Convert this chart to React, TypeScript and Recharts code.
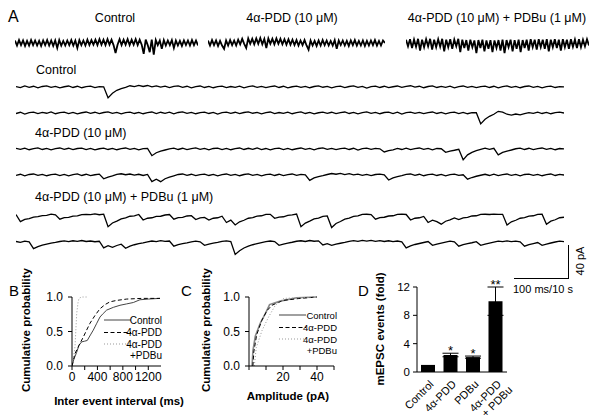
import React from 'react';
import { LineChart, Line, BarChart, Bar, XAxis, YAxis, ErrorBar, LabelList } from 'recharts';

const FONT = 'Arial, "Liberation Sans", Helvetica, sans-serif';

// --- A: overview traces (compressed, pA) ---
const ctrlTop = [
  3, -3, 3.5, -2.5, 3, -3.5, 2.5, -3, 3.5, -2.5,
  3, -3, 2.5, -3.5, 3, -2.5, 3.5, -3, 3, -3.5,
  3, -6, 3.5, -3, 2.5, -3, 3, -2.5, 3.5, -3,
  3, -6, 3.5, -2.5, 3, -3, 4, -2.5, 3.5, -2,
  4, -2.5, 4.5, -2, 4, -2.5, 4.5, -2, 4, -2.5,
  -12, -2, 4.5, -2.5, 4, -2, 4.5, -2.5, 4, -2,
  4.5, -2.5, 4, -2, -13, 4, -2.5, -11, 4, -14,
  3.5, -2.5, 3, -7, 3.5, -3, 3, -2.5, 3.5, -6,
  3, -3, 2.5, -3.5, 3, -2.5, 3, -3, 3.5, -2.5,
  3, -3,
];
const pddTop = [
  3, -3, 3.5, -2.5, 3, -3.5, 2.5, -3, -7, 3,
  -3, 3.5, -2.5, 3, -3, 4, -1.5, 5, -1, -6,
  5.5, -1, 5, -1.5, 5.5, -1, 6, -1.5, 5, -6,
  5.5, -1, 5, -1.5, 5.5, -1, 5, -1.5, 4.5, -2,
  4.5, -2, 4, -2.5, 3.5, -3, 3, -2.5, 3.5, -3,
  -8, 3, -3, 2.5, -3.5, 3, -3, 3.5, -2.5, 3,
  -3, 2.5, -3, 3.5, -7, 3, -2.5, 3, -3, 2.5,
  -3.5, 3, -2.5, 3.5, -3, 2.5, -3, 3, -3.5, 2.5,
  -3, 3, -2.5, 3.5, -3, 2.5, -3, 3, 0,
];
const comboTop = [
  4, -4, 4.5, -6, 4, -4.5, 5, -9, 4, -5,
  4.5, -4, 5, -8, 4, -5, 4.5, -4.5, 5, -10,
  4, -5, 4.5, -7, 4, -4, 5, -11, 4, -6,
  3.5, -9, 4, -5, 3, -12, 3.5, -6, 4, -10,
  3, -7, 3.5, -11, 3, -6, 3.5, -9, 4, -12,
  3.5, -5, 4, -10, 3.5, -7, 4, -11, 3.5, -6,
  4, -9, 4.5, -5, 4, -8, 4.5, -5, 4, -7,
  4.5, -10, 4, -5, 4.5, -6, 4, -9, 4.5, -5,
  4, -7, 4.5, -4.5, 4, -6, 4.5, -5, 4, -4,
  4.5, -3,
];

// --- A: expanded traces, 8 ms per sample, pA ---
const ctrlRow1 = [
  0.5, -0.8, 1.2, -0.4, 0.9, -1.1, 0.6, 1.4, -0.5, 0.8,
  -1, 0.3, 1.2, -0.6, 0.9, -0.9, 0.4, 1.1, -0.7, 0.5,
  0.2, -13, -7.5, -4, -2, -0.5, 1.5, 0.4, 2, 0.6,
  1.8, 0.2, 1.4, -0.2, 1, -0.8, 0.7, 1.3, -0.5, 0.9,
  -1, 0.5, 1.2, -0.6, 0.8, -0.9, 0.4, 1.1, -0.7, 0.6,
  -0.4, 1, -1.1, 0.4, 1.3, -0.5, 0.7, -0.8, 0.5, 1.2,
  -0.6, 0.9, -1, 0.3, 1.1, -0.5, 0.8, -0.9, 0.6, 1.4,
  -0.3, 0.7, -1, 0.5, 1, -0.7, 0.6, 1.3, -0.4, 0.8,
  -1.2, 0.4, 1.1, -0.6, 0.9, -0.8, 0.3, 1.2, -0.5, 0.7,
  1.5, -0.2, 0.9, -0.9, 0.6, 1.3, -0.6, 0.8, -0.4, 1,
  -1, 0.5, 1.2, -0.5, 0.8, -0.8, 0.5, 1.1, -0.6, 0.9,
  -1.1, 0.4, 1.3, -0.5, 0.7, -0.9, 0.6, 1.2, -0.4, 0.8,
  -1, 0.5, 1.1, -0.6, 0.5, 0.2,
];
const ctrlRow2 = [
  -0.6, 0.9, -1.2, 0.4, 1, -0.8, 0.7, -0.3, 1.3, -0.9,
  0.5, 1.1, -0.7, 0.8, -1, 0.3, 1.2, -0.5, 0.9, -0.8,
  0.6, 1.4, -0.4, 0.7, -1.1, 0.5, 1, -0.6, 0.8, -0.9,
  0.4, 1.2, -0.7, 0.9, -0.5, 1.1, -1, 0.6, 1.3, -0.4,
  0.8, -0.9, 0.5, 1.1, -0.6, 0.7, -1.2, 0.4, 1, -0.5,
  0.9, -0.8, 0.6, 1.3, -0.3, 0.8, -1, 0.5, 1.2, -0.7,
  0.6, -0.4, 1, -0.9, 0.5, 1.4, -0.6, 0.7, -1.1, 0.3,
  1.1, -0.5, 0.9, -0.8, 0.4, 1.2, -0.6, 0.8, -1, 0.5,
  1.3, -0.4, 0.7, -0.9, 0.6, 1, -0.7, 0.9, -1.2, 0.4,
  1.1, -0.5, 0.8, -0.8, 0.5, 1.2, -0.6, 0.7, -1, 0.4,
  1, -0.7, 0.8, -0.9, 0.5, 0.3, -13, -7.5, -4, -1.5,
  2, 1, -1.5, -2.5, -1.2, -2.2, -0.8, 0.5, -0.4, 1,
  -0.6, 0.8, -0.9, 0.5, 1.1, 0,
];
const pddRow1 = [
  0.8, -0.5, 1.1, -0.9, 0.4, 1.3, -0.6, 0.7, -1, 0.5,
  1.2, -0.4, 0.9, -0.8, 0.6, 1, -0.7, 0.8, -1.1, 0.3,
  1.1, -0.6, 0.7, -0.9, 0.5, 1.2, -0.5, 0.8, -1, 0.4,
  0.6, -8, -4.5, -2.5, -1.2, 0.2, 1, -0.6, 0.9, -0.8,
  0.5, 1.3, -0.4, 0.7, -1, 0.6, 1.1, -0.7, 0.8, -0.9,
  0.4, 1.2, -0.6, 0.9, -0.5, 1.4, -0.8, 0.6, -1.1, 0.5,
  1, -0.7, 0.8, -0.9, 0.3, 1.2, -0.5, 0.7, -1, 0.6,
  1.3, -0.4, 0.8, -0.8, 0.5, 1.1, -0.6, 0.9, -1.2, 0.4,
  1, -0.5, 0.7, 0.2, -3.5, -2, -1, 0.8, -0.6, 1.1,
  -0.8, 0.5, 1.2, -0.5, 0.7, -1, 0.6, 0.3, -4, -2.5,
  -1.5, -0.3, -13, -7, -4, -2, -0.5, 1, -0.4, 0.8,
  -7, -4, -2.5, -1.2, 0.3, 1, -0.6, 0.9, -0.8, 0.5,
  1.2, -0.5, 0.8, -0.9, 0.6, 0.2,
];
const pddRow2 = [
  -0.4, 0.9, -1, 0.6, 1.2, -0.5, 0.8, -0.9, 0.4, 1.1,
  -0.7, 0.7, -1.1, 0.5, 1.3, -0.6, 0.9, -0.8, 0.3, 1,
  -4.5, -2.5, -1, 0.8, 1.5, 0.3, 1.2, -0.2, 0.9, -0.6,
  0.7, -8, -5, -8, -4.5, -2.5, -1, 0.6, 1.2, -0.5,
  0.9, -0.8, 0.5, 1.1, -0.6, 0.7, -1, 0.4, 1.2, -0.5,
  0.8, -0.9, 0.6, 1.3, -0.4, 0.7, -1.1, 0.5, 1, -0.6,
  0.9, -0.8, 0.4, 1.2, -0.5, 0.8, 0.3, -6.5, -3.5, -2,
  -0.8, 0.6, 1.8, 0.9, 2, 0.5, 1.6, 0.2, 1.1, -0.5,
  0.8, -0.7, 0.6, 1.1, 0.2, -6, -3.5, -2, -0.8, 0.7,
  1.2, -0.5, 0.9, -0.9, 0.5, 1.1, -0.6, 0.8, -1, 0.4,
  1.1, -0.5, 0.3, -5, -3, -1.5, -0.3, 0.9, -0.6, 1,
  -0.8, 0.5, 1.2, -0.5, 0.7, -1, 0.6, 1.1, -0.4, 0.8,
  -0.9, 0.5, 1.2, -0.6, 0.7, 0,
];
const comboRow1 = [
  0.5, -8, -5.2, -4.3, -2.5, -2, -0.7, -0.4, 1, 0.2,
  -5, -3.2, -2.8, -1.3, -1, 0.5, 0.8, 0.5, 1.3, 0.3,
  1, -14, -9.6, -7.4, -4.7, -3.5, -1.5, -1, 0.6, -6,
  -3.9, -3.3, -1.7, -1.5, 0, 0.6, -5, -3.2, -2.8, -1.2,
  -0.8, -5.5, -3.5, -2.9, -6, -3.9, -3.3, -1.5, -9, -6.2,
  -12, -8.2, -6.3, -3.9, -3.1, -1.3, -0.9, 0.7, 0.8, -4,
  -2.5, -2.1, -0.5, 0.1, 1.1, -14, -9.7, -7.3, -4.7, -3.7,
  -1.7, -1.1, -15, -10.2, -7.8, -4.9, -3.8, -1.7, -1.1, 0.7,
  0.9, 0.5, -5, -3.2, -2.7, -1.2, -0.9, 0.8, 1, 0.6,
  -6, -3.9, -3.3, -1.7, -9, -6.2, -8, -11, -7.5, -5.8,
  -3.5, -5.5, -3.5, -2.8, -1.2, -0.9, 0.8, 0.9, 0.6, 1.1,
  0.8, 0.8, -12, -8.2, -6.3, -3.9, -3.1, -1.3, -0.9, 0.8,
  1, -11, -7.4, -5.7, -3.3, -2.7,
];
const comboRow2 = [
  0.6, -0.5, 1, 0.2, -8, -5.5, -3.8, -2.5, -1.4, -0.5,
  0.6, 1.3, 0.4, 1.5, 0.8, 1.8, 0.6, 1.2, 0.3, 0.9,
  -7, -4.5, -6.5, -4.2, -2.6, -7.5, -5, -3.3, -2, -1,
  0.2, 1.2, 0.5, 1.6, 0.7, 1.2, -5, -3.2, -2, -1,
  0.2, 1, 0.3, -4, -2.5, -1.4, -0.4, 0.8, 1.4, 0.6,
  -15, -10.5, -7.2, -5, -3.3, -2, -0.8, 0.4, 1.2, 0.5,
  -4, -2.5, -1.3, -0.3, 0.9, 1.5, 0.6, 1.8, 0.9, 1.4,
  -3.5, -2, -4, -2.6, -1.5, -0.5, 0.8, 1.6, 0.7, 1.9,
  1, 2, 0.8, 1.7, 0.6, 1.5, 0.5, 1.2, 0.3, -7,
  -4.6, -3, -1.8, -0.6, 0.6, -4, -2.5, -1.3, -0.2, 1,
  0.3, -5, -3.2, -2, -0.9, 0.4, -4, -2.5, -1.3, -0.2,
  1, 0.4, 1.3, 0.5, 1.1, 0.2, -5, -3.2, -1.9, -0.6,
  -4, -2.5, -1.2, 0, 1, 0.4,
];

// --- B: inter-event interval CDFs ---
const bCtrlMs = [0, 30, 74, 110, 152, 200, 240, 290, 335, 390, 440, 490, 545, 650, 755, 860, 964, 1069, 1200, 1384];
const bCtrlP = [0, 0.1, 0.2, 0.3, 0.35, 0.36, 0.37, 0.45, 0.52, 0.62, 0.71, 0.76, 0.81, 0.85, 0.88, 0.9, 0.92, 0.96, 0.97, 0.98];
const bPddMs = [0, 47, 110, 178, 230, 283, 360, 440, 520, 597, 700, 860, 1100, 1384];
const bPddP = [0, 0.18, 0.3, 0.42, 0.52, 0.62, 0.73, 0.83, 0.89, 0.93, 0.95, 0.97, 0.98, 0.98];
const bComboMs = [0, 20, 47, 74, 95, 110, 150, 230];
const bComboP = [0, 0.1, 0.28, 0.76, 0.92, 0.98, 1, 1];

// --- C: amplitude CDFs ---
const cCtrlPa = [1.8, 2.3, 3.7, 6.6, 9.6, 12.1, 18.4, 28, 40];
const cCtrlP = [0, 0.22, 0.43, 0.62, 0.76, 0.89, 0.94, 0.99, 1];
const cPddPa = [2.3, 2.8, 4.5, 7.5, 10.5, 13.5, 20, 30, 40];
const cPddP = [0, 0.2, 0.45, 0.66, 0.8, 0.88, 0.95, 0.98, 1];
const cComboPa = [3.1, 4.3, 7.6, 11.5, 15.5, 20.4, 30, 40];
const cComboP = [0, 0.27, 0.51, 0.71, 0.88, 0.98, 0.99, 1];

// --- D: mEPSC events (fold) ---
const dCats = ['Control', '4α-PDD', 'PDBu', '4α-PDD+PDBu'];
const dMeans = [1, 2.4, 2.1, 10];
const dErr = [0, 0.25, 0.15, 2];
const dSig = ['', '*', '*', '**'];

const pairs = (xs: number[], ys: number[]) => xs.map((x, i) => ({ x, p: ys[i] }));

const Txt = ({ x, y, size = 12.5, bold = false, rotate = 0, anchor = 'left', children }: any) => (
  <div
    style={{
      position: 'absolute', left: x, top: y, fontFamily: FONT, fontSize: size,
      fontWeight: bold ? 'bold' : 'normal', whiteSpace: 'nowrap', lineHeight: 1, color: '#000',
      transform: `translate(${anchor === 'center' ? '-50%' : '0'}, -50%) rotate(${rotate}deg)`,
    }}
  >
    {children}
  </div>
);

const Trace = ({ values, left, top, width, sw = 1.3 }: { values: number[]; left: number; top: number; width: number; sw?: number }) => {
  const data = values.map((v, i) => ({ i, v }));
  return (
    <div style={{ position: 'absolute', left, top }}>
      <LineChart width={width} height={40} data={data} margin={{ top: 0, right: 0, bottom: 0, left: 0 }}>
        <XAxis dataKey="i" type="number" domain={[0, values.length - 1]} hide />
        <YAxis domain={[-36, 12]} hide />
        <Line dataKey="v" type="linear" dot={false} stroke="#000" strokeWidth={sw} isAnimationActive={false} />
      </LineChart>
    </div>
  );
};

const CdfLegend = ({ left, top, ctrlStroke, ctrlWidth, size = 9.5 }: any) => {
  const rows = [8, 20.5, 32, 43];
  const txt = { fontFamily: FONT, fontSize: size, textAnchor: 'end' as const };
  return (
    <svg style={{ position: 'absolute', left, top }} width={64} height={50}>
      <line x1={4} x2={31} y1={rows[0]} y2={rows[0]} stroke={ctrlStroke} strokeWidth={ctrlWidth} />
      <text x={62} y={rows[0] + 3.5} {...txt}>Control</text>
      <line x1={4} x2={31} y1={rows[1]} y2={rows[1]} stroke="#000" strokeDasharray="4 2.5" />
      <text x={62} y={rows[1] + 3.5} {...txt}>4α-PDD</text>
      <line x1={4} x2={31} y1={rows[2]} y2={rows[2]} stroke="#999" strokeDasharray="1 2" />
      <text x={62} y={rows[2] + 3.5} {...txt}>4α-PDD</text>
      <text x={62} y={rows[3] + 3.5} {...txt}>+PDBu</text>
    </svg>
  );
};

const axisStyle = { stroke: '#000', strokeWidth: 1 };
const tickStyle = { fontSize: 12, fill: '#000', fontFamily: FONT };

const DTick = ({ x, y, payload }: any) => {
  const lines = payload.value === '4α-PDD+PDBu' ? ['4α-PDD', '+ PDBu'] : [payload.value];
  return (
    <g transform={`translate(${x + 6},${y + 5})`}>
      <text transform="rotate(-45)" textAnchor="end" fontSize={11} fontFamily={FONT} fill="#000">
        {lines.map((l, i) => (
          <tspan key={i} x={i * 4} dy={i === 0 ? 0 : 12}>{l}</tspan>
        ))}
      </text>
    </g>
  );
};

const StarLabel = (props: any) => {
  const { x, y, width, height, value, index } = props;
  if (!value) return null;
  const k = Number(height) / dMeans[index];
  const top = Number(y) - dErr[index] * k;
  return (
    <text x={Number(x) + Number(width) / 2} y={top + 2} textAnchor="middle" fontSize={13} fontFamily={FONT} fill="#000">
      {value}
    </text>
  );
};

export default function App() {
  const dData = dCats.map((cat, i) => ({ cat, mean: dMeans[i], err: dErr[i], sig: dSig[i] }));
  return (
    <div style={{ position: 'absolute', left: 0, top: 0, width: 600, height: 418, background: '#fff', overflow: 'hidden' }}>
      {/* Panel A */}
      <Txt x={8} y={17} size={16}>A</Txt>
      <Txt x={115} y={18} anchor="center">Control</Txt>
      <Txt x={292} y={18} anchor="center">4α-PDD (10 μM)</Txt>
      <Txt x={497} y={18} anchor="center">4α-PDD (10 μM) + PDBu (1 μM)</Txt>
      <Trace values={ctrlTop} left={15} top={33} width={183} sw={1.8} />
      <Trace values={pddTop} left={208} top={33} width={177} sw={1.8} />
      <Trace values={comboTop} left={406} top={33} width={183} sw={1.8} />

      <Txt x={36} y={70}>Control</Txt>
      <Trace values={ctrlRow1} left={16} top={77} width={548} />
      <Trace values={ctrlRow2} left={16} top={103} width={548} />
      <Txt x={35} y={133}>4α-PDD (10 μM)</Txt>
      <Trace values={pddRow1} left={16} top={139} width={548} />
      <Trace values={pddRow2} left={16} top={165} width={548} />
      <Txt x={35} y={197}>4α-PDD (10 μM) + PDBu (1 μM)</Txt>
      <Trace values={comboRow1} left={16} top={205} width={548} />
      <Trace values={comboRow2} left={16} top={232} width={548} />

      {/* scale bar */}
      <div style={{ position: 'absolute', left: 568, top: 245, width: 1, height: 34, background: '#000' }} />
      <div style={{ position: 'absolute', left: 514, top: 278, width: 55, height: 1, background: '#000' }} />
      <Txt x={580} y={261} size={11} anchor="center" rotate={-90}>40 pA</Txt>
      <Txt x={513} y={289} size={11}>100 ms/10 s</Txt>

      {/* Panel B */}
      <Txt x={9} y={290} size={15}>B</Txt>
      <div style={{ position: 'absolute', left: 0, top: 280 }}>
        <LineChart width={200} height={138} margin={{ top: 17, right: 39, bottom: 32, left: 32 }}>
          <XAxis dataKey="x" type="number" domain={[0, 1400]} ticks={[0, 200, 400, 600, 800, 1000, 1200]} interval={0}
            tickFormatter={(v: number) => (v % 400 === 0 ? String(v) : '')} height={20}
            axisLine={axisStyle} tickLine={axisStyle} tickSize={4} tickMargin={2} tick={tickStyle} allowDataOverflow />
          <YAxis type="number" domain={[0, 1]} ticks={[0, 0.5, 1]} interval={0} tickFormatter={(v: number) => v.toFixed(1)} width={40}
            axisLine={axisStyle} tickLine={axisStyle} tickSize={4} tickMargin={5} tick={tickStyle} />
          <Line data={pairs(bCtrlMs, bCtrlP)} dataKey="p" type="linear" dot={false} stroke="#444" strokeWidth={1} isAnimationActive={false} />
          <Line data={pairs(bPddMs, bPddP)} dataKey="p" type="linear" dot={false} stroke="#000" strokeWidth={1} strokeDasharray="4 2.5" isAnimationActive={false} />
          <Line data={pairs(bComboMs, bComboP)} dataKey="p" type="linear" dot={false} stroke="#999" strokeWidth={1} strokeDasharray="1 2" isAnimationActive={false} />
        </LineChart>
      </div>
      <CdfLegend left={100} top={312} ctrlStroke="#444" ctrlWidth={1} size={10} />
      <Txt x={27} y={330} size={11.5} bold anchor="center" rotate={-90}>Cumulative probability</Txt>
      <Txt x={119} y={402} size={11.5} bold anchor="center">Inter event interval (ms)</Txt>

      {/* Panel C */}
      <Txt x={181} y={290} size={15}>C</Txt>
      <div style={{ position: 'absolute', left: 180, top: 280 }}>
        <LineChart width={180} height={138} margin={{ top: 17, right: 26, bottom: 32, left: 29 }}>
          <XAxis dataKey="x" type="number" domain={[0, 50]} ticks={[0, 10, 20, 30, 40, 50]} interval={0}
            tickFormatter={(v: number) => (v === 20 || v === 40 ? String(v) : '')} height={20}
            axisLine={axisStyle} tickLine={axisStyle} tickSize={4} tickMargin={2} tick={tickStyle} />
          <YAxis type="number" domain={[0, 1]} ticks={[0, 0.5, 1]} interval={0} tickFormatter={(v: number) => v.toFixed(1)} width={40}
            axisLine={axisStyle} tickLine={axisStyle} tickSize={4} tickMargin={5} tick={tickStyle} />
          <Line data={pairs(cCtrlPa, cCtrlP)} dataKey="p" type="linear" dot={false} stroke="#888" strokeWidth={1.6} isAnimationActive={false} />
          <Line data={pairs(cPddPa, cPddP)} dataKey="p" type="linear" dot={false} stroke="#000" strokeWidth={1} strokeDasharray="4 2.5" isAnimationActive={false} />
          <Line data={pairs(cComboPa, cComboP)} dataKey="p" type="linear" dot={false} stroke="#999" strokeWidth={1} strokeDasharray="1 2" isAnimationActive={false} />
        </LineChart>
      </div>
      <CdfLegend left={275} top={307} ctrlStroke="#888" ctrlWidth={1.6} />
      <Txt x={207} y={330} size={11.5} bold anchor="center" rotate={-90}>Cumulative probability</Txt>
      <Txt x={288} y={397} size={11.5} bold anchor="center">Amplitude (pA)</Txt>

      {/* Panel D */}
      <Txt x={358} y={290} size={15}>D</Txt>
      <div style={{ position: 'absolute', left: 370, top: 250 }}>
        <BarChart width={230} height={168} data={dData} margin={{ top: 37, right: 93, bottom: 6, left: 17 }}>
          <XAxis dataKey="cat" type="category" height={40} axisLine={axisStyle} tickLine={false} tick={<DTick />} interval={0} />
          <YAxis type="number" domain={[0, 12]} ticks={[0, 4, 8, 12]} interval={0} width={30}
            axisLine={axisStyle} tickLine={axisStyle} tickSize={4} tickMargin={3} tick={{ ...tickStyle, fontSize: 11.5 }} />
          <Bar dataKey="mean" fill="#000" barSize={14} isAnimationActive={false}>
            <ErrorBar dataKey="err" width={8} stroke="#000" strokeWidth={1} direction="y" />
            <LabelList dataKey="sig" content={<StarLabel />} />
          </Bar>
        </BarChart>
      </div>
      <Txt x={381} y={329} size={11.5} bold anchor="center" rotate={-90}>mEPSC events (fold)</Txt>
    </div>
  );
}
